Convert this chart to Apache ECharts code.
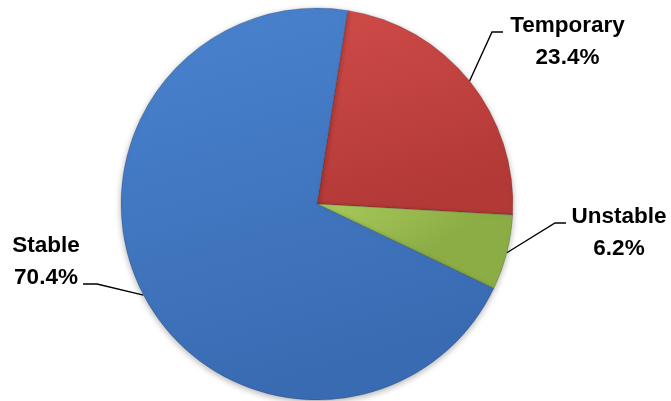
<!DOCTYPE html>
<html>
<head>
<meta charset="utf-8">
<script src="https://cdn.jsdelivr.net/npm/echarts@6/dist/echarts.min.js"></script>
<style>
html,body{margin:0;padding:0;background:#fff;}
#chart{width:671px;height:401px;}
</style>
</head>
<body>
<div id="chart"></div>
<script>
// ---- data ----
const categories = ['Temporary', 'Unstable', 'Stable'];
const values = [23.4, 6.2, 70.4];
const percentLabels = ['23.4%', '6.2%', '70.4%'];

// ---- styling ----
const sliceColors = [
  ['#cf4b48', '#b23936'],
  ['#a9cc5c', '#8cad45'],
  ['#4a83d0', '#396bb2']
];
const richKeys = ['t', 'u', 's'];
const labelPadding = [[20, 0, 0, 0], [20, 0, 0, 0], [0, 0, 45, 0]];
const lineLen2 = [11, 11, 14];
const labelAnchors = [
  { x: 503, y: 32, align: 'left' },
  { x: 566, y: 223, align: 'left' },
  { x: 83, y: 284, align: 'right' }
];

const baseRich = { fontFamily: 'Liberation Sans', fontWeight: 'bold', fontSize: 22.5, lineHeight: 32, color: '#000', align: 'center' };

const chart = echarts.init(document.getElementById('chart'), null, { renderer: 'canvas' });

const data = categories.map((name, i) => ({
  name: name,
  value: values[i],
  itemStyle: {
    color: {
      type: 'linear', x: 0, y: 0, x2: 0.3, y2: 1,
      colorStops: [
        { offset: 0, color: sliceColors[i][0] },
        { offset: 1, color: sliceColors[i][1] }
      ]
    }
  },
  label: { padding: labelPadding[i] },
  labelLine: { length2: lineLen2[i] }
}));

chart.setOption({
  backgroundColor: '#fff',
  animation: false,
  series: [{
    type: 'pie',
    center: [317, 204],
    radius: 196,
    startAngle: 81,
    clockwise: true,
    avoidLabelOverlap: false,
    data: data,
    itemStyle: {
      borderColor: 'rgba(40,40,40,0.35)',
      borderWidth: 0.6,
      shadowBlur: 6,
      shadowColor: 'rgba(0,0,0,0.3)',
      shadowOffsetY: 2
    },
    label: {
      show: true,
      position: 'outside',
      backgroundColor: 'rgba(255,255,255,0)',
      formatter: function (p) {
        const k = richKeys[p.dataIndex];
        return '{' + k + '|' + categories[p.dataIndex] + '}\n{' + k + '|' + percentLabels[p.dataIndex] + '}';
      },
      rich: {
        t: Object.assign({}, baseRich, { width: 129 }),
        u: Object.assign({}, baseRich, { width: 106 }),
        s: Object.assign({}, baseRich, { width: 74 })
      }
    },
    labelLine: {
      show: true,
      length: 30,
      length2: 11,
      lineStyle: { color: '#000', width: 1.4 }
    },
    labelLayout: function (params) {
      const a = labelAnchors[params.dataIndex];
      return { x: a.x, y: a.y, align: a.align, verticalAlign: 'middle' };
    }
  }]
});
</script>
</body>
</html>
